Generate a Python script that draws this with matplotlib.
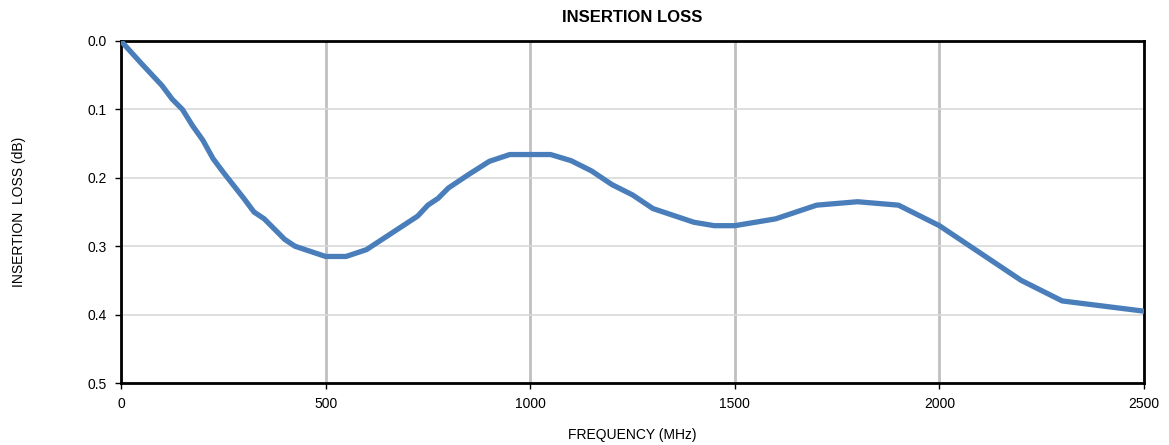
import matplotlib.pyplot as plt

plt.rcParams['font.family'] = ['Liberation Sans', 'DejaVu Sans']

# Insertion loss curve
freq_mhz = [0, 50, 100, 125, 150, 175, 200, 225, 250, 300, 325, 350, 400, 425,
            500, 550, 600, 725, 750, 775, 800, 850, 900, 950, 1050, 1100, 1150,
            1200, 1250, 1300, 1350, 1400, 1450, 1500, 1600, 1700, 1800, 1900,
            2000, 2200, 2300, 2500]
loss_db = [0.0, 0.033, 0.065, 0.085, 0.1, 0.124, 0.145, 0.172, 0.192, 0.23, 0.25,
           0.26, 0.29, 0.3, 0.315, 0.315, 0.305, 0.256, 0.24, 0.23, 0.215, 0.195,
           0.176, 0.166, 0.166, 0.175, 0.19, 0.21, 0.225, 0.245, 0.255, 0.265,
           0.27, 0.27, 0.26, 0.24, 0.235, 0.24, 0.27, 0.35, 0.38, 0.395]

x_ticks = [0, 500, 1000, 1500, 2000, 2500]
y_ticks = [0.0, 0.1, 0.2, 0.3, 0.4, 0.5]

fig = plt.figure(figsize=(11.69, 4.45), dpi=100)
ax = fig.add_axes([0.1035, 0.1393, 0.8751, 0.7686])

ax.plot(freq_mhz, loss_db, color='#4a7ebb', linewidth=3.8, solid_joinstyle='round', zorder=3)

ax.set_xlim(0, 2500)
ax.set_ylim(0.5, 0.0)
ax.set_xticks(x_ticks)
ax.set_yticks(y_ticks)
ax.set_yticklabels([f'{v:.1f}' for v in y_ticks])

ax.xaxis.grid(True, color='#c0c0c0', linewidth=2.0)
ax.yaxis.grid(True, color='#d9d9d9', linewidth=1.2)
ax.set_axisbelow(True)

for s in ax.spines.values():
    s.set_linewidth(2.0)
    s.set_color('black')

ax.tick_params(axis='both', labelsize=10, length=4, width=1, direction='out', pad=6)

ax.set_title('INSERTION LOSS', fontsize=12, fontweight='bold', pad=14)
ax.set_xlabel('FREQUENCY (MHz)', fontsize=10)
ax.set_ylabel('INSERTION  LOSS (dB)', fontsize=10)
ax.xaxis.set_label_coords(0.5, -0.131)
ax.yaxis.set_label_coords(-0.093, 0.5)

fig.savefig('out.png', dpi=100)
